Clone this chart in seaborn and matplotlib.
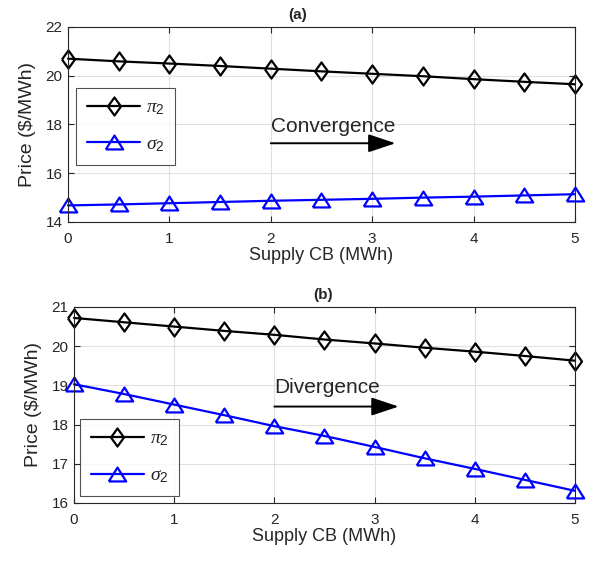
import numpy as np
import pandas as pd
import matplotlib
matplotlib.use('Agg')
import matplotlib.pyplot as plt
import seaborn as sns

supply = [0, 0.5, 1, 1.5, 2, 2.5, 3, 3.5, 4, 4.5, 5]
pi2_a = [20.70, 20.59, 20.50, 20.40, 20.29, 20.18, 20.08, 19.98, 19.86, 19.75, 19.65]
sigma2_a = [14.68, 14.72, 14.77, 14.82, 14.87, 14.91, 14.95, 15.00, 15.04, 15.09, 15.14]
pi2_b = [20.72, 20.61, 20.50, 20.39, 20.29, 20.17, 20.07, 19.96, 19.86, 19.75, 19.63]
sigma2_b = [19.03, 18.78, 18.51, 18.24, 17.96, 17.71, 17.43, 17.14, 16.87, 16.59, 16.31]

sns.set_theme(style='ticks')
plt.rcParams['font.family'] = ['Liberation Sans', 'DejaVu Sans']
plt.rcParams['mathtext.fontset'] = 'custom'
plt.rcParams['mathtext.it'] = 'Liberation Serif:italic'
plt.rcParams['mathtext.rm'] = 'Liberation Sans'

# MATLAB-like markers: tall diamond, wide triangle
diamond = [(-0.72, 0), (0, 1), (0.72, 0), (0, -1), (-0.72, 0)]
triangle = [(-1, -0.8), (0, 0.8), (1, -0.8), (-1, -0.8)]

fig = plt.figure(figsize=(5.98, 5.61), dpi=100)
ax1 = fig.add_axes([0.1137, 0.6043, 0.8478, 0.3476])
ax2 = fig.add_axes([0.1237, 0.1034, 0.8378, 0.3494])

panels = [
    (ax1, pi2_a, sigma2_a, (14, 22), [14, 16, 18, 20, 22], '(a)', 0.452, 'Convergence',
     (2.0, 17.23), (3.23, 17.23), (2.0, 17.90), 'upper left', (0.016, 0.687)),
    (ax2, pi2_b, sigma2_b, (16, 21), [16, 17, 18, 19, 20, 21], '(b)', 0.497, 'Divergence',
     (2.0, 18.46), (3.24, 18.46), (2.0, 18.95), 'lower left', (0.012, 0.036)),
]

for ax, pi2, sigma2, ylim, yticks, title, tx, note, a0, a1, tpos, loc, anchor in panels:
    df = pd.DataFrame({'supply': supply, 'pi2': pi2, 'sigma2': sigma2})
    sns.lineplot(data=df, x='supply', y='pi2', ax=ax, color='black', lw=1.6,
                 marker=diamond, markersize=13, markerfacecolor='none',
                 markeredgecolor='black', markeredgewidth=1.6, clip_on=False,
                 label=r'$\pi_{\rm 2}$')
    sns.lineplot(data=df, x='supply', y='sigma2', ax=ax, color='blue', lw=1.6,
                 marker=triangle, markersize=12.5, markerfacecolor='none',
                 markeredgecolor='blue', markeredgewidth=1.6, clip_on=False,
                 label=r'$\sigma_{\rm 2}$')
    ax.set_xlim(0, 5)
    ax.set_ylim(*ylim)
    ax.set_yticks(yticks)
    ax.set_xticks([0, 1, 2, 3, 4, 5])
    ax.grid(True, color='#e0e0e0', lw=0.8)
    ax.set_axisbelow(True)
    ax.tick_params(direction='in', top=True, right=True, labelsize=11,
                   colors='#262626', length=4, width=0.8)
    ax.tick_params(axis='x', pad=7)
    ax.tick_params(axis='y', pad=4)
    for s in ax.spines.values():
        s.set_color('#262626')
        s.set_linewidth(0.8)
    ax.set_xlabel('Supply CB (MWh)', fontsize=13, color='#262626', labelpad=1)
    ax.set_ylabel('Price ($/MWh)', fontsize=14, color='#262626', labelpad=7)
    ax.set_title(title, fontsize=11, fontweight='bold', pad=6, x=tx)
    ax.annotate('', xy=a1, xytext=a0,
                arrowprops=dict(arrowstyle='-|>,head_length=1.2,head_width=0.4',
                                color='black', lw=1.4, mutation_scale=14,
                                shrinkA=0, shrinkB=0))
    ax.text(tpos[0], tpos[1], note, fontsize=15, ha='left', va='center')
    leg = ax.legend(loc=loc, bbox_to_anchor=anchor, fontsize=14, frameon=True,
                    fancybox=False, handlelength=2.75, borderpad=0.55,
                    labelspacing=0.95, handletextpad=0.3, borderaxespad=0)
    leg.get_frame().set_edgecolor('#262626')
    leg.get_frame().set_linewidth(0.8)

fig.savefig('out.png', dpi=100)
